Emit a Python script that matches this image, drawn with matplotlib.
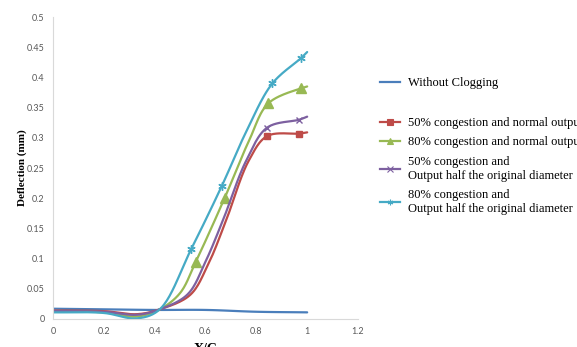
import numpy as np
import matplotlib
matplotlib.use('Agg')
import matplotlib.pyplot as plt

# values
blue_x = [0, 0.2, 0.4, 0.6, 0.8, 1.0]
blue_y = [0.017, 0.016, 0.015, 0.015, 0.012, 0.011]

red_x = [0, 0.2, 0.33, 0.42, 0.54, 0.61, 0.68, 0.77, 0.843, 0.969, 1.0]
red_y = [0.014, 0.013, 0.008, 0.016, 0.040, 0.09, 0.162, 0.262, 0.303, 0.307, 0.309]
red_marks = [8, 9]

green_x = [0, 0.2, 0.33, 0.42, 0.5, 0.561, 0.675, 0.772, 0.847, 0.976, 1.0]
green_y = [0.012, 0.011, 0.004, 0.016, 0.043, 0.094, 0.2, 0.296, 0.357, 0.382, 0.385]
green_marks = [5, 6, 8, 9]

purple_x = [0, 0.2, 0.33, 0.42, 0.53, 0.6, 0.67, 0.76, 0.843, 0.969, 1.0]
purple_y = [0.013, 0.012, 0.007, 0.016, 0.041, 0.095, 0.165, 0.262, 0.317, 0.33, 0.335]
purple_marks = [8, 9]

cyan_x = [0, 0.2, 0.33, 0.42, 0.544, 0.665, 0.76, 0.863, 0.976, 1.0]
cyan_y = [0.011, 0.010, 0.001, 0.016, 0.116, 0.221, 0.31, 0.39, 0.432, 0.442]
cyan_marks = [4, 5, 7, 8]

labels = ['Without Clogging',
          '50% congestion and normal output',
          '80% congestion and normal output',
          '50% congestion and\nOutput half the original diameter',
          '80% congestion and\nOutput half the original diameter']

SX, SY = 255.0, 602.0  # px per data unit, so the curve is fitted in screen space


def smooth(xs, ys, n=24, alpha=0.5):
    # centripetal catmull-rom through the points (excel-like smoothed line)
    p = np.column_stack([np.array(xs) * SX, np.array(ys) * SY])
    p = np.vstack([2 * p[0] - p[1], p, 2 * p[-1] - p[-2]])
    out = []
    for i in range(1, len(p) - 2):
        p0, p1, p2, p3 = p[i - 1], p[i], p[i + 1], p[i + 2]
        t0 = 0.0
        t1 = t0 + np.linalg.norm(p1 - p0) ** alpha
        t2 = t1 + np.linalg.norm(p2 - p1) ** alpha
        t3 = t2 + np.linalg.norm(p3 - p2) ** alpha
        t = np.linspace(t1, t2, n, endpoint=False)[:, None]
        a1 = (t1 - t) / (t1 - t0) * p0 + (t - t0) / (t1 - t0) * p1
        a2 = (t2 - t) / (t2 - t1) * p1 + (t - t1) / (t2 - t1) * p2
        a3 = (t3 - t) / (t3 - t2) * p2 + (t - t2) / (t3 - t2) * p3
        b1 = (t2 - t) / (t2 - t0) * a1 + (t - t0) / (t2 - t0) * a2
        b2 = (t3 - t) / (t3 - t1) * a2 + (t - t1) / (t3 - t1) * a3
        out.append((t2 - t) / (t2 - t1) * b1 + (t - t1) / (t2 - t1) * b2)
    out.append(p[-2][None, :])
    out = np.vstack(out)
    return out[:, 0] / SX, out[:, 1] / SY


fig = plt.figure(figsize=(5.77, 3.47), dpi=100)
ax = fig.add_axes([53 / 577, 1 - 319 / 347, 305 / 577, 302 / 347])

series = [
    (blue_x, blue_y, '#4A7EBB', None, []),
    (red_x, red_y, '#BE4B48', 's', red_marks),
    (green_x, green_y, '#98B954', '^', green_marks),
    (purple_x, purple_y, '#7D60A0', 'x', purple_marks),
    (cyan_x, cyan_y, '#46AAC5', (6, 2, 0), cyan_marks),
]

handles = []
for (xs, ys, col, mk, marks), lab in zip(series, labels):
    sx, sy = smooth(xs, ys)
    ax.plot(sx, sy, color=col, lw=1.6, solid_capstyle='round')
    if mk is not None:
        size = {'s': 5, '^': 7, 'x': 5}.get(mk, 6)
        ax.plot([xs[i] for i in marks], [ys[i] for i in marks], ls='none', marker=mk,
                color=col, ms=size, mew=1.0)
    h, = ax.plot([], [], color=col, lw=1.6, marker=mk,
                 ms=4 if mk is not None else 0, mew=0.8)
    handles.append(h)

ax.set_xlim(0, 1.2)
ax.set_ylim(0, 0.5)
ax.set_xticks(np.arange(0, 1.21, 0.2))
ax.set_xticklabels(['0', '0.2', '0.4', '0.6', '0.8', '1', '1.2'])
ax.set_yticks(np.arange(0, 0.51, 0.05))
ax.set_yticklabels(['0', '0.05', '0.1', '0.15', '0.2', '0.25', '0.3', '0.35', '0.4', '0.45', '0.5'])
ax.tick_params(length=0, labelsize=6.5, labelcolor='#595959', pad=6)
for lbl in ax.get_xticklabels() + ax.get_yticklabels():
    lbl.set_family('Lato')
for s in ['top', 'right']:
    ax.spines[s].set_visible(False)
for s in ['left', 'bottom']:
    ax.spines[s].set_color('#D9D9D9')
    ax.spines[s].set_linewidth(0.8)

ax.set_ylabel('Deflection (mm)', family='Liberation Serif', fontweight='bold',
              fontsize=8, labelpad=0)
ax.set_xlabel('X/C', family='Liberation Serif', fontweight='bold', fontsize=10, labelpad=5)

legend_font = {'family': 'Liberation Serif', 'size': 9}
leg_kw = dict(loc='upper left', frameon=False, borderpad=0, borderaxespad=0,
              handlelength=1.6, handletextpad=0.6, prop=legend_font)
fig.legend(handles[:1], labels[:1], bbox_to_anchor=(380 / 577, 1 - 77 / 347), **leg_kw)
fig.legend(handles[1:], labels[1:], bbox_to_anchor=(380 / 577, 1 - 117 / 347),
           labelspacing=0.6, **leg_kw)

fig.savefig('out.png', dpi=100)
